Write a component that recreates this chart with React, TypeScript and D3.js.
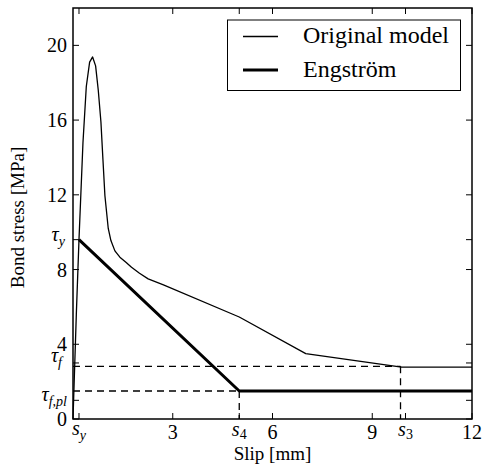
import React from "react";
import * as d3 from "d3";

// ---- data ----
const originalX = [0, 0.1, 0.18, 0.3, 0.4, 0.5, 0.59, 0.68, 0.76, 0.84, 0.9, 0.96, 1.06, 1.14, 1.26, 1.41, 1.6, 1.76, 2.0, 2.26, 2.72, 5.0, 7.0, 9.88, 12];
const originalY = [0, 5.6, 9.6, 14.8, 17.8, 19.1, 19.38, 18.9, 17.6, 15.9, 13.9, 11.95, 10.2, 9.55, 9.0, 8.66, 8.38, 8.12, 7.8, 7.5, 7.18, 5.46, 3.5, 2.78, 2.78];

const engX = [0.18, 5.0, 12];
const engY = [9.6, 1.5, 1.5];

const xTickValues = [3, 6, 9, 12];
const yTickValues = [0, 4, 8, 12, 16, 20];

const sY = 0.18;
const s4 = 5.0;
const s3Tick = 10.0;
const s3Line = 9.85;
const tauY = 9.6;
const tauFTick = 3.0;
const tauFLine = 2.82;
const tauFplTick = 1.0;
const tauFplLine = 1.5;

const seriesNames = ["Original model", "Engström"];

const W = 482;
const H = 468;
const M = { left: 73, right: 10, top: 8, bottom: 49 };
const FONT = "Liberation Serif";

export default function App() {
  const x = d3.scaleLinear().domain([0, 12]).range([M.left, W - M.right]);
  const y = d3.scaleLinear().domain([0, 22]).range([H - M.bottom, M.top]);
  const line = d3
    .line<[number, number]>()
    .x((d) => x(d[0]))
    .y((d) => y(d[1]));
  const orig: [number, number][] = originalX.map((v, i) => [v, originalY[i]]);
  const eng: [number, number][] = engX.map((v, i) => [v, engY[i]]);

  const x0 = x(0), x1 = x(12), y0 = y(0), y1 = y(22);
  const tl = 6;
  const allX = [sY, s4, s3Tick, ...xTickValues];
  const allY = [tauY, tauFTick, tauFplTick, ...yTickValues];

  const fs = 20;

  return (
    <svg width={W} height={H} style={{ position: "absolute", left: 0, top: 0, background: "#fff", fontFamily: FONT }}>
      <rect x={0} y={0} width={W} height={H} fill="#fff" />
      {/* dashed guides */}
      <g stroke="#000" strokeWidth={1.3} strokeDasharray="7,5" fill="none">
        <path d={`M${x0},${y(tauFLine)}H${x(s3Line)}`} />
        <path d={`M${x(s3Line)},${y(tauFLine)}V${y0}`} />
        <path d={`M${x0},${y(tauFplLine)}H${x(s4)}`} />
        <path d={`M${x(s4)},${y(tauFplLine)}V${y0}`} />
      </g>
      {/* series */}
      <path d={line(orig) || ""} fill="none" stroke="#000" strokeWidth={1.3} strokeLinejoin="round" />
      <path d={line(eng) || ""} fill="none" stroke="#000" strokeWidth={3} strokeLinejoin="round" />
      {/* ticks */}
      <g stroke="#000" strokeWidth={1}>
        {allX.map((v, i) => (
          <g key={"xt" + i}>
            <line x1={x(v)} x2={x(v)} y1={y0} y2={y0 - tl} />
            <line x1={x(v)} x2={x(v)} y1={y1} y2={y1 + tl} />
          </g>
        ))}
        {allY.map((v, i) => (
          <g key={"yt" + i}>
            <line x1={x0} x2={x0 + tl} y1={y(v)} y2={y(v)} />
            <line x1={x1} x2={x1 - tl} y1={y(v)} y2={y(v)} />
          </g>
        ))}
      </g>
      {/* frame */}
      <rect x={x0} y={y1} width={x1 - x0} height={y0 - y1} fill="none" stroke="#000" strokeWidth={1.5} />
      {/* x tick labels */}
      <g fontSize={fs} textAnchor="middle">
        {xTickValues.map((v) => (
          <text key={"xl" + v} x={x(v)} y={y0 + 20}>{v}</text>
        ))}
        <text x={x(sY)} y={y0 + 16} fontStyle="italic">
          s<tspan fontSize={14} dy={5}>y</tspan>
        </text>
        <text x={x(s4)} y={y0 + 17} fontStyle="italic">
          s<tspan fontSize={14} dy={3} fontStyle="normal">4</tspan>
        </text>
        <text x={x(s3Tick)} y={y0 + 17} fontStyle="italic">
          s<tspan fontSize={14} dy={3} fontStyle="normal">3</tspan>
        </text>
      </g>
      {/* y tick labels */}
      <g fontSize={fs} textAnchor="end">
        {yTickValues.map((v) => (
          <text key={"yl" + v} x={x0 - 6} y={y(v) + 7}>{v}</text>
        ))}
        <text x={x0 - 8} y={y(tauY) + 1} fontStyle="italic">
          τ<tspan fontSize={14} dy={5}>y</tspan>
        </text>
        <text x={x0 - 11} y={y(tauFTick) - 1} fontStyle="italic">
          τ<tspan fontSize={14} dy={5}>f</tspan>
        </text>
        <text x={x0 - 6} y={y(tauFplTick) + 1} fontStyle="italic">
          τ<tspan fontSize={14} dy={5}>f,pl</tspan>
        </text>
      </g>
      {/* axis labels */}
      <text x={(x0 + x1) / 2} y={460} fontSize={19} textAnchor="middle">Slip [mm]</text>
      <text transform={`translate(24,${(y0 + y1) / 2 + 4}) rotate(-90)`} fontSize={19} textAnchor="middle">Bond stress [MPa]</text>
      {/* legend */}
      <g>
        <rect x={227.5} y={20} width={233} height={70.5} fill="#fff" stroke="#000" strokeWidth={1} />
        <line x1={243} x2={278} y1={36.5} y2={36.5} stroke="#000" strokeWidth={1.3} />
        <line x1={243} x2={278} y1={70} y2={70} stroke="#000" strokeWidth={3} />
        <text x={303} y={43} fontSize={24}>{seriesNames[0]}</text>
        <text x={303} y={77} fontSize={24}>{seriesNames[1]}</text>
      </g>
    </svg>
  );
}
